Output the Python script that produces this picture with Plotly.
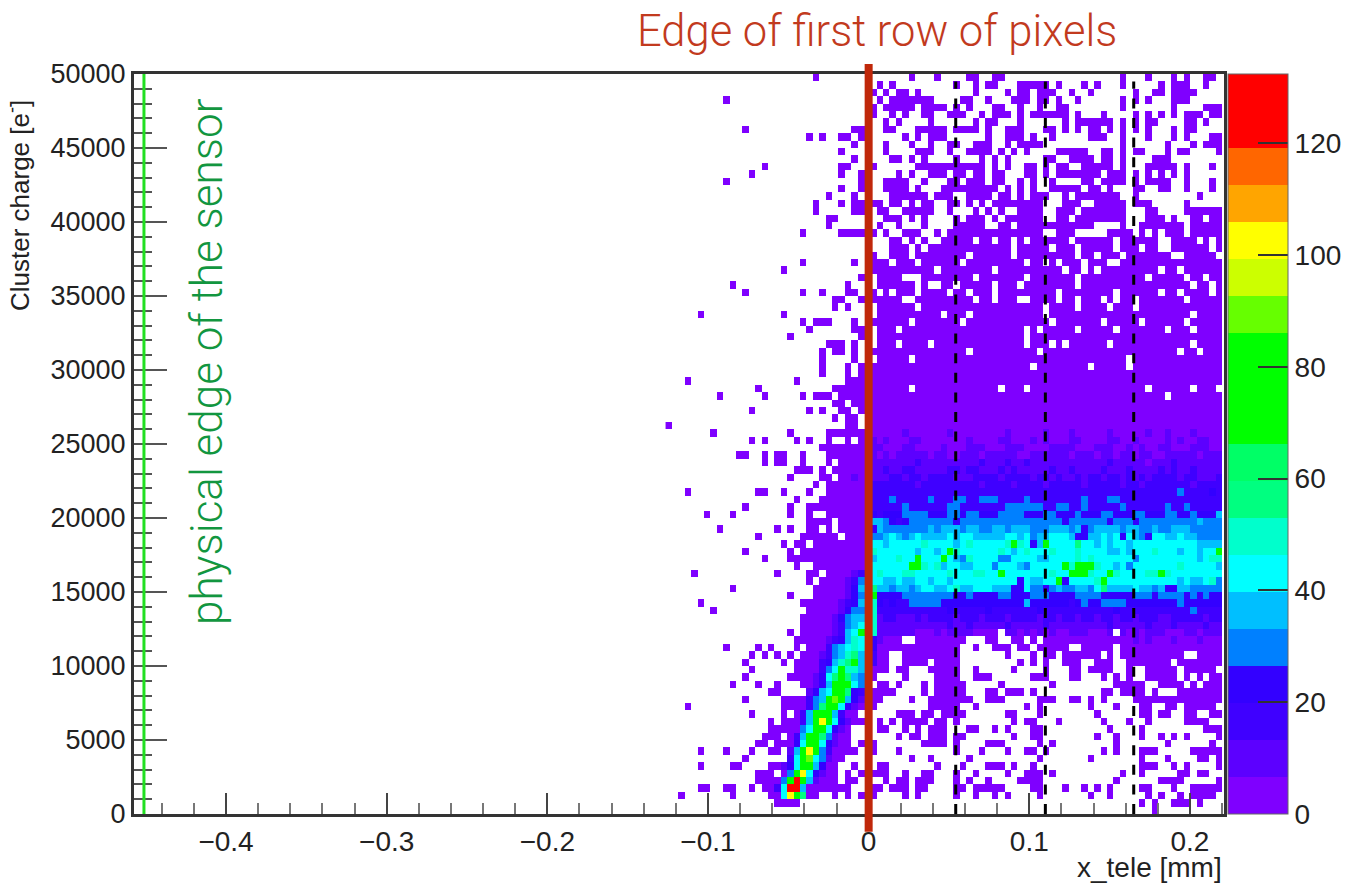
import plotly.graph_objects as go

# ---- colour bands of the palette, lowest first ----
BAND_COLORS = ["#7f00ff", "#5c00ff", "#3f00ff", "#3300ff", "#0080ff", "#00bfff", "#00ffff",
               "#00ffcc", "#00ff80", "#00ff66", "#00ff00", "#00ff00", "#00ff00", "#66ff00",
               "#ccff00", "#ffff00", "#ffa500", "#ff6600", "#ff0000", "#ff0000"]
Z_MAX = 132.4
BAND = Z_MAX / 20
N_COLS = 88
N_ROWS = 100
Y_TICKS = [0, 5000, 10000, 15000, 20000, 25000, 30000, 35000, 40000, 45000, 50000]
X_TICKS = [-0.4, -0.3, -0.2, -0.1, 0, 0.1, 0.2]
CBAR_TICKS = [0, 20, 40, 60, 80, 100, 120]

# Cells. Rows count down from the top (bin 49500-50000),
# columns count right from x = -0.1244 mm. Numbers are columns, pairs are runs.
LEFT_HITS = {
    0: [23], 3: [9], 7: [12, (29, 30)], 8: [22, 24, 27, 28, 30], 9: [29], 10: [27], 11: [29],
    12: [15, 27, 28], 13: [13, 27, 30], 14: [9, 30], 15: [27, 30], 16: [25, 29],
    17: [23, 27, 29, 30], 18: [23, 29, 30], 19: [25, 26], 20: [25], 21: [21, (27, 30)],
    25: [21, 29], 26: [18], 27: [30], 28: [10, 28], 29: [12, 21, 24, 28, 29], 30: [26, 27, 30],
    31: [26, 28], 32: [5, 18], 33: [21, (23, 25), 29], 34: [22, 29, 30], 35: [19, 30],
    36: [(25, 27), 29], 37: [24, 26, 27, 29], 38: [24, 29], 39: [24, 28, 30], 40: [24, 28, 30],
    41: [3, 20, (28, 30)], 42: [14, (26, 30)], 43: [8, 15, 21, (23, 25), (27, 30)],
    44: [26, 27, 29, 30], 45: [13, 22, 24, 27, 28, 30], 46: [26, 28, 29], 47: [0, 28, 29],
    48: [7, 19, (25, 30)], 49: [13, 15, 20, 22, 25, 28, 30], 50: [(24, 30)],
    51: [11, 12, 15, 17, 18, 21, (25, 30)], 52: [15, 17, 18, 21, 25, (27, 30)],
    53: [(20, 22), 24, (26, 30)], 54: [19, 24, 25, (27, 30)], 55: [23, (25, 30)],
    56: [3, 14, 15, 18, 22, (25, 30)], 57: [20, (24, 30)], 58: [12, 19, (22, 30)],
    59: [6, 10, 19, 22, (25, 30)], 60: [(22, 25), (27, 30)], 61: [8, 17, 19, 22, 23, 25, (27, 30)],
    62: [14, 21, (22, 26), (28, 30)], 63: [18, 20, 21, (23, 30)], 64: [12, 19, (21, 30)],
    65: [15, (19, 30)], 66: [20, (23, 30)], 67: [4, 17, 22, 23, (25, 30)], 68: [22, (24, 30)],
    69: [10, (23, 30)], 70: [19, (23, 30)], 71: [5, (21, 30)], 72: [7, (22, 30)], 73: [(21, 30)],
    74: [(21, 30)], 75: [19, (21, 30)], 76: [(20, 30)],
    77: [9, 14, 16, 20, (22, 30)], 78: [13, 15, 17, 19, (21, 30)], 79: [12, 18, (20, 30)],
    80: [13, (20, 30)], 81: [12, (19, 30)], 82: [10, 14, 17, (21, 30)], 83: [16, 17, (22, 30)],
    84: [12, (18, 30)], 85: [3, (18, 30)], 86: [13, 18, (20, 29)], 87: [16, (18, 30)],
    88: [(16, 28)], 89: [(15, 17), (19, 28)], 90: [14, 15, 17, 18, (19, 28), 30],
    91: [5, 9, 13, 16, 17, (19, 29)], 92: [12, (19, 27)], 93: [5, 10, 11, (16, 18), (19, 26), 29],
    94: [(14, 16), (18, 26), 28, 30], 95: [(14, 26), 28, 29],
    96: [5, 6, 9, 10, 13, (15, 26), 27, 28], 97: [2, 10, (16, 23), 26, 28, 30], 98: [(17, 20)],
}

TOP_RIGHT_HITS = {
    0: [38, 42, 47, 48, 51, 52, 71, 75, 79, 81, 84, 85],
    1: [33, 35, 45, 48, 50, 51, (55, 59), 61, 65, 67, 71, 77, (79, 81), 84],
    2: [32, 34, 36, 37, 39, 48, 53, 55, 56, (58, 60), 63, 66, 73, 76, 77, (79, 82)],
    3: [33, (35, 41), 46, 47, 50, (54, 56), 58, 59, 61, 64, 71, 73, 75, (79, 81)],
    4: [32, (34, 38), (40, 43), 45, 47, 51, 52, 55, 58, 61, 62, 71, 79, (84, 86)],
    5: [32, 35, 37, 40, 41, (44, 46), 49, (51, 53), 55, (57, 62), 64, 68, 73, 75, 77, 79, (81, 83), 85, 86],
    6: [34, 36, 41, 48, 50, 51, 55, 62, (64, 69), 71, 73, 75, 76, 81, 82, 84],
    7: [34, 35, (39, 43), (45, 48), 50, (53, 55), 59, 60, 62, 64, 66, 67, 69, 71, 73, 75, 79, 81, 82],
    8: [37, 39, (41, 43), 50, (53, 55), 57, 60, (66, 68), 71, 75, 79, 81, 85, 86],
    9: [34, 38, 41, 44, 45, (48, 50), 53, (55, 58), 71, 78, 82, (84, 86)],
    10: [34, (39, 41), 44, (47, 50), 52, 54, 56, (61, 65), 68, 69, 71, 73, 74, 78, 80, 81, 86],
    11: [35, 36, 38, 40, 45, 49, 51, 53, 59, 60, (63, 66), 68, 69, 71, (76, 78)],
    12: [32, (39, 49), 51, 53, 56, 57, 59, 61, 62, (65, 69), 71, (75, 79), 81, 85],
    13: [36, 38, (41, 43), 45, 46, 48, 49, 51, 52, 56, 57, 59, (61, 67), (69, 71), 73, 75, 77, 79, 81],
    14: [(34, 37), 40, 44, 45, (47, 49), 51, 52, 55, 57, 60, 65, 66, (68, 71), 73, (75, 78), 81, 85],
    15: [(34, 37), 39, (43, 51), 53, 55, 57, (60, 64), 66, 67, 69, 73, 74, 77, 78, 81, 85],
    16: [(35, 40), (42, 44), (47, 50), 52, 53, 55, (57, 59), 62, (64, 70), 73, 83],
    17: [32, 33, 35, 36, 38, 40, 41, 44, 45, 47, 49, (51, 58), (62, 64), (67, 71), (73, 75), 81],
    18: [33, 34, (37, 41), 44, 48, 50, 52, (55, 58), (61, 63), (65, 71), 75, 76, (81, 86)],
    19: [(34, 36), 38, 40, 45, (47, 49), 51, (53, 58), 61, 62, (64, 71), (75, 77), 79, 82, 83, 85, 86],
    20: [33, 36, 40, (45, 49), 52, 53, (55, 66), 71, (74, 80), (82, 86)],
    21: [32, 34, (37, 39), 42, (44, 58), (61, 63), (69, 72), 74, 76, (78, 80), (82, 86)],
}

RIGHT_HOLES = {
    22: [32, 33, 34, 37, 39, 41, 42, 48, 51, 54, 56, 63, 70, 77, 78, 83, 85],
    23: [32, 33, 34, 38, 40, 54, 60, 64, 70, 74, 77, 78, 85],
    24: [33, 34, 38, 47, 54, 64, 67, 71, 79, 80, 86],
    25: [35, 39, 46, 56, 59, 61, 65, 69, 70],
    26: [42, 51, 62, 65, 67, 77, 80],
    27: [32, 37, 38, 39, 48, 56, 64, 75, 81, 84],
    28: [32, 39, 41, 42, 45, 51, 55, 64, 82, 85],
    29: [33, 35, 39, 44, 47, 51, 61, 70, 77, 80, 85],
    30: [37, 38, 48, 51, 55, 56, 61, 64, 68, 70, 73, 81],
    31: [32, 39, 59, 64, 69, 73],
    32: [32, 43, 47, 59, 82],
    33: [38, 46, 60, 68, 74, 81],
    34: [32, 36, 56, 58, 64, 70, 78, 82],
    35: [32, 56],
    36: [32, 36, 41, 56, 60, 62, 69, 82],
    37: [47, 58, 80, 83],
    38: [32, 38, 72],
    39: [57, 66, 72],
    40: [], 41: [],
    42: [38, 52, 56, 75, 82, 86],
    43: [78],
    44: [], 45: [], 46: [], 47: [],
    77: [46, 47, 49, 50, 54, 57, 63, 64, 70],
    78: [35, 36, (46, 52), (54, 56), 58, 61, 68, 70, 81, 82],
}

# band rows: columns 32..86 in groups of five, one character per colour band
BAND_ROWS = {
    48: "00000 10000 00100 00000 01000 00100 01000 00100 00010 01000 10000",
    49: "10100 01100 00000 10000 11000 10100 01100 00110 01000 01010 01100",
    50: "11000 11000 01000 11100 01110 00011 11000 11100 10100 11000 11100",
    51: "10101 11110 11001 11011 11100 11111 10111 01101 10110 01111 10111",
    52: "11111 11211 11111 11211 12112 11111 11111 11211 11101 11211 11111",
    53: "11211 22111 11221 22111 21211 11121 12111 12111 21111 21211 21111",
    54: "11122 12212 22211 12222 12222 12212 11212 21221 21212 22212 21112",
    55: "22222 22122 22222 22122 22122 22122 22212 22221 22122 22222 12222",
    56: "22222 22222 22222 22222 22222 22222 22222 22222 22222 22242 22232",
    57: "22242 22224 22244 22444 22224 22222 22242 22442 22222 22222 22222",
    58: "22222 42222 22442 22222 24444 44224 42242 22224 22222 24224 22222",
    59: "32333 44443 33443 44333 44443 33443 33433 34433 34433 34433 43335",
    60: "55432 34444 44434 44444 44444 44444 34444 44344 43444 44444 45444",
    61: "35444 44445 45554 55445 54555 44455 54534 55554 55445 44555 44444",
    62: "44565 45655 55656 65555 56656 45566 65335 56563 65436 65565 54444",
    63: "66566 66676 66656 76666 67a76 35a66 66866 56566 56666 66666 65555",
    64: "76666 66566 56a76 66666 76567 66676 66766 66556 56667 66656 6566a",
    65: "56667 66a66 6a654 76666 44666 65566 66767 66666 64666 66666 65677",
    66: "66666 6aa76 75665 56664 66654 66666 a7bba 76656 46666 66676 66665",
    67: "67666 77666 66766 67766 a6666 66676 6abb7 66a76 66677 a7666 66666",
    68: "66556 55665 66566 66666 66636 5566a 36666 7a666 66666 66656 55674",
    69: "85545 54566 55675 56665 55336 44345 44554 68555 56554 53355 44444",
    70: "a3333 44444 44433 43333 44333 44433 33444 43333 34443 44443 43433",
    71: "73232 24444 43333 33333 33335 33333 32343 34444 33333 33343 33333",
    72: "72222 22222 22322 22232 22222 23222 22222 22232 22222 22222 42222",
    73: "71221 11212 22212 22122 21222 21221 22122 12212 21222 11222 22122",
    74: "71111 11111 11211 21111 12111 11211 11111 11211 11121 11211 11211",
    75: "71111 11000 10111 10000 .1101 01010 01110 001.1 01011 10001 10111",
    76: "31000 ..000 00000 ...00 ..00. 0.000 00000 00000 01010 00100 01000",
}

BOTTOM_RIGHT_HITS = {
    79: [(32, 34), (37, 40), (42, 45), 55, 57, 59, (62, 64), (67, 69), (72, 78), (80, 86)],
    80: [(32, 34), 36, 37, (41, 45), 48, 54, 59, 63, 64, (66, 69), 72, (75, 79), (81, 85)],
    81: [32, 37, (42, 45), (48, 50), (57, 59), 63, 64, 68, 70, 72, (75, 79), 81, 83, 85, 86],
    82: [33, 34, 36, 40, (42, 46), 52, 60, (70, 74), (77, 80), 82, (84, 86)],
    83: [(32, 35), 40, (42, 46), 50, 51, (53, 55), 57, 68, 69, (71, 74), 76, (80, 86)],
    84: [32, 33, 38, (41, 47), (50, 52), (58, 60), 63, 64, 66, 68, (73, 86)],
    85: [32, (41, 45), 48, 56, 58, 66, 70, 74, 75, 78, 79, (81, 85)],
    86: [(36, 38), 40, 41, (43, 46), 53, 54, 58, 67, 74, 75, 77, 78, 81, 82, 85, 86],
    87: [33, 35, (37, 40), 42, 43, 45, 54, 56, 57, 61, 68, 72, 75, (81, 84)],
    88: [33, 34, 37, 39, (41, 43), 47, 48, 51, 53, 57, 58, 69, 74, (84, 86)],
    89: [36, 38, 39, (41, 43), 45, 46, 54, 57, 58, 67, 70, 74, 77, 79, 81, 86],
    90: [32, (40, 43), 45, (50, 52), 58, 60, 70, 78, 85],
    91: [32, 36, 45, 49, 53, 56, 57, 59, 68, 70, (74, 76), (82, 86)],
    92: [38, 41, 47, 58, 66, 74, 78, 83, 84, 86],
    93: [33, 34, 42, 46, (50, 52), 54, 57, (74, 76), 79, 81, 86],
    94: [(32, 34), 37, 40, 41, 45, 48, 53, (56, 58), 60, 71, 74, 80, 81, 83, 84],
    95: [34, 36, 37, (39, 41), 45, 47, 50, (55, 58), 70, (77, 80), 86],
    96: [32, 33, (35, 37), 39, 40, 45, 46, (48, 52), 57, 58, 62, 65, 67, 69, 74, 75, 79, (82, 86)],
    97: [32, 37, 39, 45, 48, 51, 53, 58, 66, 69, 75, 77, 80, (82, 85)],
    98: [74, 76, (79, 81), 83],
    99: [76],
}

# coloured cells: the bright streak left of the red line and its surroundings
STREAK = {
    54: {29: 1}, 67: {29: 1, 30: 2}, 68: {28: 1, 29: 2, 30: 4},
    69: {28: 1, 29: 3, 30: 5}, 70: {28: 1, 29: 3, 30: 4}, 71: {27: 1, 28: 2, 29: 3, 30: 5},
    72: {27: 1, 28: 3, 29: 4, 30: 4}, 73: {26: 1, 27: 3, 28: 4, 29: 5, 30: 5},
    74: {26: 1, 27: 2, 28: 4, 29: 5, 30: 6}, 75: {26: 1, 27: 2, 28: 5, 29: 6, 30: 10},
    76: {25: 1, 26: 2, 27: 3, 28: 5, 29: 7, 30: 6},
    77: {25: 2, 26: 4, 27: 5, 28: 6, 29: 7, 30: 6, 32: 3},
    78: {24: 1, 25: 2, 26: 4, 27: 5, 28: 7, 29: 8, 30: 5, 32: 2},
    79: {24: 2, 25: 3, 26: 5, 27: 7, 28: 8, 29: 10, 30: 5, 32: 2},
    80: {24: 2, 25: 4, 26: 6, 27: 11, 28: 7, 29: 7, 30: 5},
    81: {23: 1, 24: 3, 25: 6, 26: 8, 27: 10, 28: 8, 29: 5, 30: 4},
    82: {23: 1, 24: 3, 25: 5, 26: 10, 27: 11, 28: 11, 29: 6, 30: 4},
    83: {22: 1, 23: 3, 24: 5, 25: 6, 26: 11, 27: 11, 28: 8, 29: 3, 30: 2},
    84: {22: 2, 23: 4, 24: 5, 25: 11, 26: 13, 27: 10, 28: 5, 29: 3, 30: 1},
    85: {22: 2, 23: 4, 24: 8, 25: 11, 26: 10, 27: 6, 28: 3, 29: 1},
    86: {21: 2, 22: 5, 23: 10, 24: 11, 25: 11, 26: 5, 27: 2},
    87: {21: 2, 22: 5, 23: 10, 24: 15, 25: 11, 26: 6, 27: 3, 28: 1},
    88: {21: 4, 22: 6, 23: 11, 24: 11, 25: 6, 26: 3, 27: 1},
    89: {20: 2, 21: 5, 22: 10, 23: 11, 24: 8, 25: 4, 26: 1},
    90: {20: 3, 21: 6, 22: 11, 23: 11, 24: 6, 25: 3, 26: 1},
    91: {19: 1, 20: 5, 21: 11, 22: 15, 23: 11, 24: 4, 25: 2},
    92: {19: 2, 20: 6, 21: 11, 22: 13, 23: 6, 24: 4, 25: 1},
    93: {18: 1, 19: 3, 20: 6, 21: 12, 22: 11, 23: 5, 24: 3},
    94: {19: 4, 20: 10, 21: 15, 22: 6, 23: 3, 24: 1},
    95: {18: 4, 19: 11, 20: 19, 21: 10, 22: 5, 23: 1},
    96: {17: 2, 18: 6, 19: 19, 20: 19, 21: 5},
    97: {18: 6, 19: 15, 20: 11, 21: 8},
}

CODES = "0123456789abcdefghij"


def count(level):
    return (level + 0.5) * BAND


def expand(items):
    out = []
    for it in items:
        if isinstance(it, tuple):
            out.extend(range(it[0], it[1] + 1))
        else:
            out.append(it)
    return out


z = [[None] * N_COLS for _ in range(N_ROWS)]
for r, items in LEFT_HITS.items():
    for c in expand(items):
        z[r][c] = count(0)
for r, items in TOP_RIGHT_HITS.items():
    for c in expand(items):
        z[r][c] = count(0)
for r, items in BOTTOM_RIGHT_HITS.items():
    for c in expand(items):
        z[r][c] = count(0)
for r, holes in RIGHT_HOLES.items():
    gone = set(expand(holes))
    for c in range(32, 87):
        if c not in gone:
            z[r][c] = count(0)
for r, text in BAND_ROWS.items():
    for i, ch in enumerate(text.replace(" ", "")):
        if ch != ".":
            z[r][32 + i] = count(CODES.index(ch))
for r, cells in STREAK.items():
    for c, lvl in cells.items():
        z[r][c] = count(lvl)
# column 31 sits under the red line: it carries on from its left neighbour
for r in range(N_ROWS):
    z[r][31] = z[r][30]

x_centers = [-0.12442 + 0.00398 * c for c in range(N_COLS)]
y_centers = [49750 - 500 * r for r in range(N_ROWS)]

scale = []
for i, col in enumerate(BAND_COLORS):
    scale.append([i / 20, col])
    scale.append([(i + 1) / 20, col])

fig = go.Figure(go.Heatmap(
    x=x_centers, y=y_centers, z=z, zmin=0, zmax=Z_MAX, colorscale=scale, hoverongaps=False,
    colorbar=dict(
        x=1.0037, xanchor="left", xpad=0, y=0, yanchor="bottom", len=1, ypad=0,
        thickness=60, outlinecolor="#666", outlinewidth=1,
        tickmode="array", tickvals=CBAR_TICKS, ticks="inside", ticklen=30, tickwidth=2, tickcolor="#333",
        tickfont=dict(family="Liberation Sans", size=28, color="#222"),
    ),
))

fig.update_xaxes(
    range=[-0.4573, 0.2212], tickmode="array", tickvals=X_TICKS, ticks="inside", ticklen=21, tickwidth=2,
    tickcolor="#444", showline=True, linecolor="#333", linewidth=3, mirror=True, showgrid=False,
    zeroline=False, tickfont=dict(family="Liberation Sans", size=28, color="#222"),
    minor=dict(ticks="inside", ticklen=11, tickwidth=2, tickcolor="#777", dtick=0.02, tick0=0, showgrid=False),
)
fig.update_yaxes(
    range=[0, 50000], tickmode="array", tickvals=Y_TICKS, ticks="inside", ticklen=33, tickwidth=2,
    tickcolor="#555", showline=True, linecolor="#333", linewidth=3, mirror=True, showgrid=False,
    zeroline=False, tickfont=dict(family="Liberation Sans", size=27, color="#222"),
    exponentformat="none", tickformat="d",
    minor=dict(ticks="inside", ticklen=18, tickwidth=2, tickcolor="#555", dtick=1000, tick0=0, showgrid=False),
)

shapes = [
    dict(type="line", xref="x", yref="paper", x0=-0.4511, x1=-0.4511, y0=0, y1=1,
         line=dict(color="#22e022", width=3)),
]
for xv in (0.0542, 0.11, 0.165):
    shapes.append(dict(type="line", xref="x", yref="paper", x0=xv, x1=xv, y0=0, y1=0.99,
                       line=dict(color="black", width=3, dash="10px,9.6px")))
shapes.append(dict(type="line", xref="x", yref="paper", x0=0, x1=0, y0=-0.024, y1=1.0135,
                   line=dict(color="#c0280a", width=8)))

annotations = [
    dict(text="Edge of first row of pixels", xref="paper", yref="paper", x=(877 - 134) / 1090, y=1 + (74 - 32) / 740,
         yanchor="middle", xanchor="center", showarrow=False,
         font=dict(family="Roboto", size=43.5, color="#c23a1e", weight=300)),
    dict(text="physical edge of the sensor", xref="paper", yref="paper", x=(207 - 134) / 1090, y=1 - (362 - 74) / 740,
         yanchor="middle", xanchor="center", textangle=-90, showarrow=False,
         font=dict(family="Roboto", size=44, color="#12963f", weight=300)),
    dict(text="Cluster charge [e<sup>-</sup>]", xref="paper", yref="paper", x=(19 - 134) / 1090, y=1 - (206 - 74) / 740,
         yanchor="middle", xanchor="center", textangle=-90, showarrow=False,
         font=dict(family="Liberation Sans", size=26, color="#222")),
    dict(text="x_tele [mm]", xref="paper", yref="paper", x=1, y=-(868 - 814) / 740, xanchor="right", yanchor="middle",
         showarrow=False, font=dict(family="Liberation Sans", size=28, color="#222")),
]

fig.update_layout(
    width=1347, height=884, autosize=False,
    margin=dict(l=134, r=123, t=74, b=70, pad=0, autoexpand=False),
    plot_bgcolor="white", paper_bgcolor="white",
    shapes=shapes, annotations=annotations, showlegend=False,
)

fig.write_html("out.html", config={"displayModeBar": False}, post_script="document.body.style.margin='0';")
